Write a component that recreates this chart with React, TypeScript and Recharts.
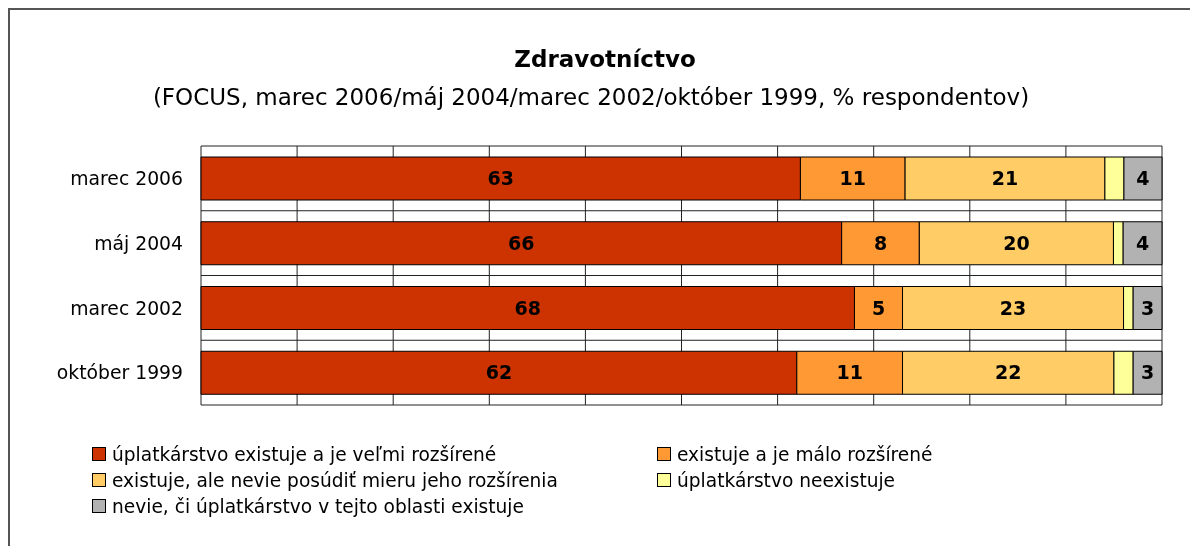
import React from "react";
import {
  Bar,
  BarChart,
  CartesianGrid,
  LabelList,
  XAxis,
  YAxis,
} from "recharts";

const categories = ["marec 2006", "máj 2004", "marec 2002", "október 1999"];
const veryWide = [63, 66, 68, 62];
const littleWide = [11, 8, 5, 11];
const cantJudge = [21, 20, 23, 22];
const notExist = [2, 1, 1, 2];
const dontKnow = [4, 4, 3, 3];
const xTicks = [0, 0.1, 0.2, 0.3, 0.4, 0.5, 0.6, 0.7, 0.8, 0.9, 1];

const series = [
  { key: "veryWide", name: "úplatkárstvo existuje a je veľmi rozšírené", color: "#CC3300", label: true },
  { key: "littleWide", name: "existuje a je málo rozšírené", color: "#FF9933", label: true },
  { key: "cantJudge", name: "existuje, ale nevie posúdiť mieru jeho rozšírenia", color: "#FFCC66", label: true },
  { key: "notExist", name: "úplatkárstvo neexistuje", color: "#FFFF99", label: false },
  { key: "dontKnow", name: "nevie, či úplatkárstvo v tejto oblasti existuje", color: "#B2B2B2", label: true },
];

const data = categories.map((period, i) => ({
  period,
  veryWide: veryWide[i],
  littleWide: littleWide[i],
  cantJudge: cantJudge[i],
  notExist: notExist[i],
  dontKnow: dontKnow[i],
}));

const font = "'DejaVu Sans', Verdana, sans-serif";

// legend slots: two columns, filled row by row
const legendPos = [
  { left: 84, top: 446 },
  { left: 649, top: 446 },
  { left: 84, top: 472 },
  { left: 649, top: 472 },
  { left: 84, top: 498 },
];

export default function App() {
  return (
    <div
      style={{
        position: "fixed",
        left: 8,
        top: 8,
        width: 1182,
        height: 538,
        overflow: "hidden",
        fontFamily: font,
        color: "#000",
        borderTop: "2px solid #555",
        borderLeft: "2px solid #555",
        boxSizing: "border-box",
      }}
    >
      <div style={{ position: "absolute", left: 395, width: 400, top: 36, textAlign: "center", fontSize: 23, fontWeight: "bold" }}>
        Zdravotníctvo
      </div>
      <div style={{ position: "absolute", left: 81, width: 1000, top: 74, textAlign: "center", fontSize: 23 }}>
        (FOCUS, marec 2006/máj 2004/marec 2002/október 1999, % respondentov)
      </div>
      <div style={{ position: "absolute", left: -2, top: -2 }}>
        <BarChart
          width={1182}
          height={538}
          data={data}
          layout="vertical"
          stackOffset="expand"
          barSize={43}
          margin={{ top: 138, right: 28, bottom: 141, left: 0 }}
        >
          <CartesianGrid
            stroke="#222"
            horizontalCoordinatesGenerator={({ offset }: any) =>
              [0, 1, 2, 3, 4].map((i) => offset.top + (offset.height * i) / 4)
            }
          />
          <XAxis type="number" domain={[0, 1]} ticks={xTicks} hide />
          <YAxis
            type="category"
            dataKey="period"
            width={193}
            axisLine={false}
            tickLine={false}
            tickSize={0}
            tickMargin={18}
            tick={{ fill: "#000", fontSize: 18.8, fontFamily: font }}
          />
          {series.map((s) => (
            <Bar
              key={s.key}
              dataKey={s.key}
              name={s.name}
              stackId="a"
              fill={s.color}
              stroke="#000"
              strokeWidth={1}
              isAnimationActive={false}
            >
              {s.label && (
                <LabelList
                  dataKey={s.key}
                  position="center"
                  fill="#000"
                  fontSize={19}
                  fontWeight="bold"
                  fontFamily={font}
                />
              )}
            </Bar>
          ))}
        </BarChart>
      </div>
      {series.map((s, i) => (
        <div
          key={s.key}
          style={{
            position: "absolute",
            left: legendPos[i].left - 2,
            top: legendPos[i].top - 15,
            height: 26,
            display: "flex",
            alignItems: "center",
            fontSize: 18.6,
            whiteSpace: "nowrap",
          }}
        >
          <span
            style={{
              display: "inline-block",
              width: 12,
              height: 12,
              background: s.color,
              border: "1px solid #000",
              marginRight: 6,
            }}
          />
          {s.name}
        </div>
      ))}
    </div>
  );
}
